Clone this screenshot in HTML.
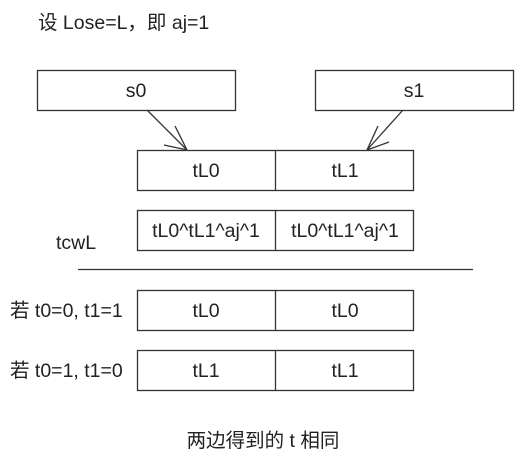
<!DOCTYPE html>
<html><head><meta charset="utf-8"><style>
body{margin:0;background:#fff}
svg text{font-family:"Liberation Sans","Noto Sans CJK SC",sans-serif;font-size:19.5px;fill:#222}
</style></head><body>
<svg width="528" height="463" xmlns="http://www.w3.org/2000/svg">
<g fill="none" stroke="#333" stroke-width="1.3">
<rect x="37.5" y="70.5" width="198" height="40"/>
<rect x="315.5" y="70.5" width="198" height="40"/>
<rect x="137.5" y="150.5" width="276" height="40"/><line x1="275.5" y1="150" x2="275.5" y2="190"/>
<rect x="137.5" y="210.5" width="276" height="40"/><line x1="275.5" y1="210" x2="275.5" y2="250"/>
<rect x="137.5" y="290.5" width="276" height="40"/><line x1="275.5" y1="290" x2="275.5" y2="330"/>
<rect x="137.5" y="350.5" width="276" height="40"/><line x1="275.5" y1="350" x2="275.5" y2="390"/>
<line x1="78" y1="269.5" x2="473" y2="269.5"/>
<line x1="147" y1="110" x2="187" y2="150"/>
<path d="M164 145 L187 150 L175 126"/>
<line x1="403" y1="110" x2="367" y2="150"/>
<path d="M378 126 L367 150 L389 142"/>
</g>
<text x="38" y="29">设 Lose=L，即 aj=1</text>
<text x="136" y="97" text-anchor="middle">s0</text>
<text x="414" y="97" text-anchor="middle">s1</text>
<text x="206" y="177" text-anchor="middle">tL0</text>
<text x="345" y="177" text-anchor="middle">tL1</text>
<text x="206" y="237" text-anchor="middle">tL0^tL1^aj^1</text>
<text x="345" y="237" text-anchor="middle">tL0^tL1^aj^1</text>
<text x="56" y="249">tcwL</text>
<text x="10" y="317">若 t0=0, t1=1</text>
<text x="206" y="317" text-anchor="middle">tL0</text>
<text x="345" y="317" text-anchor="middle">tL0</text>
<text x="10" y="377">若 t0=1, t1=0</text>
<text x="206" y="377" text-anchor="middle">tL1</text>
<text x="345" y="377" text-anchor="middle">tL1</text>
<text x="263" y="447" text-anchor="middle">两边得到的 t 相同</text>
</svg>
</body></html>
